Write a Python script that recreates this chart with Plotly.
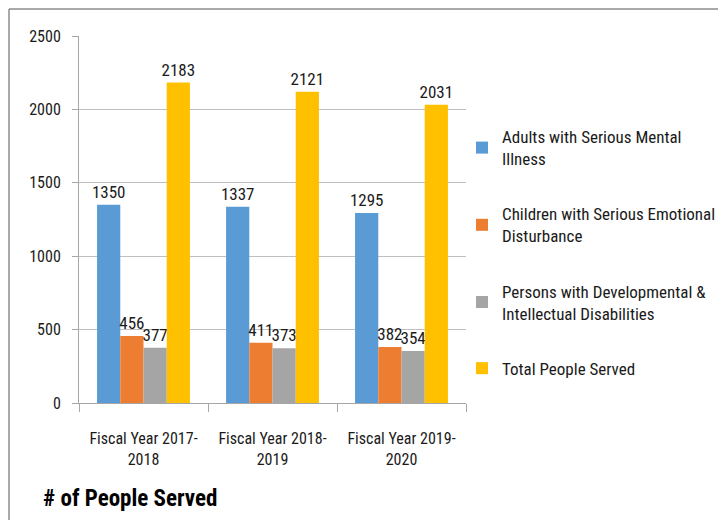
import plotly.graph_objects as go

categories = ["Fiscal Year 2017-<br>2018", "Fiscal Year 2018-<br>2019", "Fiscal Year 2019-<br>2020"]
series_names = [
    "Adults with Serious Mental<br>Illness",
    "Children with Serious Emotional<br>Disturbance",
    "Persons with Developmental &<br>Intellectual Disabilities",
    "Total People Served",
]
adults_smi = [1350, 1337, 1295]
children_sed = [456, 411, 382]
persons_dd = [377, 373, 354]
total_served = [2183, 2121, 2031]
colors = ["#5B9BD5", "#ED7D31", "#A5A5A5", "#FFC000"]
y_ticks = [0, 500, 1000, 1500, 2000, 2500]

FONT = "Roboto Condensed, Liberation Sans Narrow, sans-serif"
TXT = "#1a1a1a"

# the page adds an 8px body margin, so the figure is drawn 8px in from the window corner
OFF = 8
W, H = 726 - OFF, 520 - OFF
L, T = 79 - OFF, 36 - OFF
R = W - (466 - OFF)
B = H - (403 - OFF)
pw, ph = W - L - R, H - T - B

def px_x(p):
    return (p - OFF - L) / pw

def px_y(p):
    return (H - B - (p - OFF)) / ph

fig = go.Figure()
for i, (name, vals) in enumerate(zip(series_names, [adults_smi, children_sed, persons_dd, total_served])):
    fig.add_trace(go.Bar(
        x=categories, y=vals, name=name, marker_color=colors[i],
        marker_line_width=0,
        text=[str(v) for v in vals], textposition="outside",
        textfont=dict(family=FONT, size=17, color=TXT),
        cliponaxis=False, legendgroup=f"g{i}", constraintext="none",
    ))

fig.update_layout(
    width=W, height=H,
    margin=dict(l=L, r=R, t=T, b=B, autoexpand=False),
    paper_bgcolor="white", plot_bgcolor="white",
    barmode="group", bargap=0.28, bargroupgap=0,
    font=dict(family=FONT, size=17, color=TXT),
    showlegend=True,
    legend=dict(
        x=px_x(462), xanchor="left", y=px_y(119), yanchor="top",
        font=dict(family=FONT, size=17, color=TXT),
        tracegroupgap=30, itemwidth=30,
        bgcolor="rgba(0,0,0,0)",
    ),
    xaxis=dict(
        showgrid=False, showline=True, linecolor="#A6A6A6", linewidth=1,
        ticks="outside", tickson="boundaries", ticklen=8, tickcolor="#A6A6A6",
        tickangle=0, automargin=False, ticklabelstandoff=21,
        tickfont=dict(family=FONT, size=16, color=TXT),
    ),
    yaxis=dict(
        range=[0, 2500], tickvals=y_ticks,
        showgrid=True, gridcolor="#BFBFBF", gridwidth=1.3,
        showline=True, linecolor="#A6A6A6", linewidth=1,
        ticks="outside", ticklen=6, tickcolor="#A6A6A6",
        tickfont=dict(family=FONT, size=16, color=TXT),
        zeroline=False, ticklabelstandoff=8, automargin=False,
    ),
    annotations=[dict(
        text="<b># of People Served</b>", xref="paper", yref="paper",
        x=px_x(41), y=px_y(499), xanchor="left", yanchor="middle",
        showarrow=False, font=dict(family=FONT, size=23, color="#000000"),
    )],
    shapes=[
        dict(type="line", xref="paper", yref="paper", x0=px_x(9), x1=px_x(740),
             y0=px_y(9), y1=px_y(9), line=dict(color="#8C8C8C", width=1.5)),
        dict(type="line", xref="paper", yref="paper", x0=px_x(9), x1=px_x(9),
             y0=px_y(9), y1=px_y(530), line=dict(color="#8C8C8C", width=1.5)),
    ],
)

fig.write_html("out.html")
